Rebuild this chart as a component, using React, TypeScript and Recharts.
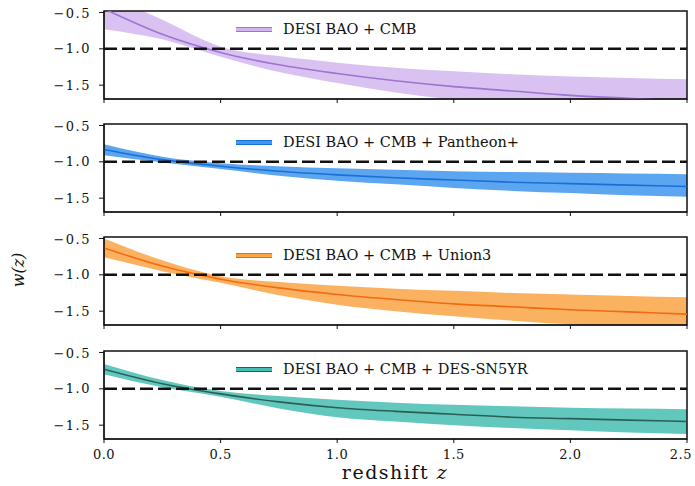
import React from 'react';
import {
  ComposedChart,
  Area,
  Line,
  XAxis,
  YAxis,
  ReferenceLine,
  ReferenceArea,
} from 'recharts';

// redshift grid and w(z) readings per dataset combination
const redshifts = [0, 0.25, 0.5, 0.75, 1.0, 1.25, 1.5, 1.75, 2.0, 2.25, 2.5];

const cmbMean = [-0.45, -0.8, -1.05, -1.22, -1.34, -1.44, -1.52, -1.58, -1.64, -1.68, -1.72];
const cmbUpper = [-0.25, -0.6, -0.97, -1.1, -1.19, -1.26, -1.31, -1.35, -1.38, -1.4, -1.42];
const cmbLower = [-0.73, -0.87, -1.11, -1.32, -1.47, -1.6, -1.7, -1.78, -1.85, -1.9, -1.95];

const pantheonMean = [-0.83, -0.97, -1.06, -1.13, -1.18, -1.22, -1.25, -1.28, -1.3, -1.32, -1.34];
const pantheonUpper = [-0.76, -0.93, -1.02, -1.06, -1.09, -1.11, -1.13, -1.14, -1.15, -1.16, -1.17];
const pantheonLower = [-0.91, -1.01, -1.1, -1.19, -1.26, -1.31, -1.36, -1.4, -1.43, -1.46, -1.48];

const unionMean = [-0.63, -0.88, -1.06, -1.18, -1.27, -1.34, -1.4, -1.44, -1.48, -1.51, -1.54];
const unionUpper = [-0.5, -0.8, -1.02, -1.1, -1.15, -1.19, -1.22, -1.25, -1.27, -1.29, -1.31];
const unionLower = [-0.76, -0.95, -1.11, -1.28, -1.41, -1.5, -1.57, -1.63, -1.68, -1.72, -1.75];

const desMean = [-0.73, -0.93, -1.07, -1.18, -1.26, -1.31, -1.35, -1.39, -1.41, -1.43, -1.45];
const desUpper = [-0.66, -0.88, -1.03, -1.1, -1.15, -1.19, -1.22, -1.24, -1.26, -1.27, -1.28];
const desLower = [-0.8, -0.98, -1.11, -1.27, -1.39, -1.45, -1.5, -1.54, -1.57, -1.6, -1.62];

const xTicks = [0, 0.5, 1.0, 1.5, 2.0, 2.5];
const yTicks = [-1.5, -1.0, -0.5];
const yDomain: [number, number] = [-1.69, -0.48];

const FONT = 'DejaVu Serif';

const panels = [
  { label: 'DESI BAO + CMB', mean: cmbMean, lo: cmbLower, hi: cmbUpper, band: '#d2b6ee', line: '#9d74cf', top: 11 },
  { label: 'DESI BAO + CMB + Pantheon+', mean: pantheonMean, lo: pantheonLower, hi: pantheonUpper, band: '#3f97ee', line: '#1a6fd6', top: 124 },
  { label: 'DESI BAO + CMB + Union3', mean: unionMean, lo: unionLower, hi: unionUpper, band: '#f9a444', line: '#f26a12', top: 237 },
  { label: 'DESI BAO + CMB + DES-SN5YR', mean: desMean, lo: desLower, hi: desUpper, band: '#46bdb2', line: '#2b5f55', top: 351 },
];

const PLOT_H = 88;

const fmtY = (v: number) => (v < 0 ? '\u2212' : '') + Math.abs(v).toFixed(1);

// bottom tick labels; the last one is pulled in so it stays inside the frame
function XTick({ x, y, payload, show }: any) {
  if (!show) return null;
  const isLast = payload.value === 2.5;
  return (
    <text
      x={isLast ? x + 7 : x}
      y={y}
      dy={11}
      textAnchor={isLast ? 'end' : 'middle'}
      fontSize={13}
      fontFamily={FONT}
      letterSpacing={0.5}
      fill="#111"
    >
      {payload.value.toFixed(1)}
    </text>
  );
}

function Panel({ p, last }: { p: (typeof panels)[number]; last: boolean }) {
  const data = redshifts.map((z, i) => ({ z, mean: p.mean[i], band: [p.lo[i], p.hi[i]] }));
  const xh = last ? 26 : 6;
  return (
    <>
      <div style={{ position: 'absolute', left: 0, top: p.top - 6 }}>
        <ComposedChart
          width={695}
          height={PLOT_H + 6 + xh}
          data={data}
          margin={{ top: 6, right: 8, bottom: 0, left: 42 }}
        >
          <XAxis
            dataKey="z"
            type="number"
            domain={[0, 2.5]}
            ticks={xTicks}
            allowDataOverflow
            height={xh}
            tickSize={4}
            tickMargin={5}
            stroke="#111"
            tick={<XTick show={last} />}
          />
          <YAxis
            type="number"
            domain={yDomain}
            ticks={yTicks}
            allowDataOverflow
            width={62}
            tickSize={5}
            tickMargin={8}
            stroke="#111"
            tickFormatter={fmtY}
            tick={{ fontSize: 13, fill: '#111', fontFamily: FONT, letterSpacing: 1.5 }}
          />
          <Area
            type="monotone"
            dataKey="band"
            stroke="none"
            fill={p.band}
            fillOpacity={0.85}
            isAnimationActive={false}
          />
          <Line
            type="monotone"
            dataKey="mean"
            stroke={p.line}
            strokeWidth={1.6}
            dot={false}
            isAnimationActive={false}
          />
          <ReferenceLine y={-1} stroke="#111" strokeWidth={2.5} strokeDasharray="13 5" />
          <ReferenceArea
            x1={0}
            x2={2.5}
            y1={yDomain[0]}
            y2={yDomain[1]}
            fill="none"
            stroke="#111"
            strokeWidth={1.5}
          />
        </ComposedChart>
      </div>
      <div
        style={{
          position: 'absolute',
          left: 236,
          top: p.top + 8,
          height: 20,
          display: 'flex',
          alignItems: 'center',
          fontFamily: FONT,
          fontSize: 14.5,
          color: '#111',
          whiteSpace: 'nowrap',
        }}
      >
        <span
          style={{
            display: 'inline-block',
            width: 36,
            height: 3,
            background: p.band,
            borderTop: `1px solid ${p.line}`,
            borderBottom: `1px solid ${p.line}`,
            marginRight: 11,
          }}
        />
        {p.label}
      </div>
    </>
  );
}

export default function App() {
  return (
    <div
      style={{
        position: 'absolute',
        left: 0,
        top: 0,
        width: 695,
        height: 486,
        background: '#fff',
        overflow: 'hidden',
      }}
    >
      {panels.map((p, i) => (
        <Panel key={p.label} p={p} last={i === panels.length - 1} />
      ))}
      <div
        style={{
          position: 'absolute',
          left: 18,
          top: 270,
          transform: 'translate(-50%, -50%) rotate(-90deg)',
          fontFamily: FONT,
          fontSize: 16,
          fontStyle: 'italic',
          color: '#111',
          whiteSpace: 'nowrap',
        }}
      >
        w(z)
      </div>
      <div
        style={{
          position: 'absolute',
          left: 395,
          top: 472,
          transform: 'translate(-50%, -50%)',
          fontFamily: FONT,
          fontSize: 19,
          letterSpacing: 1.5,
          color: '#111',
          whiteSpace: 'nowrap',
        }}
      >
        redshift <i>z</i>
      </div>
    </div>
  );
}
